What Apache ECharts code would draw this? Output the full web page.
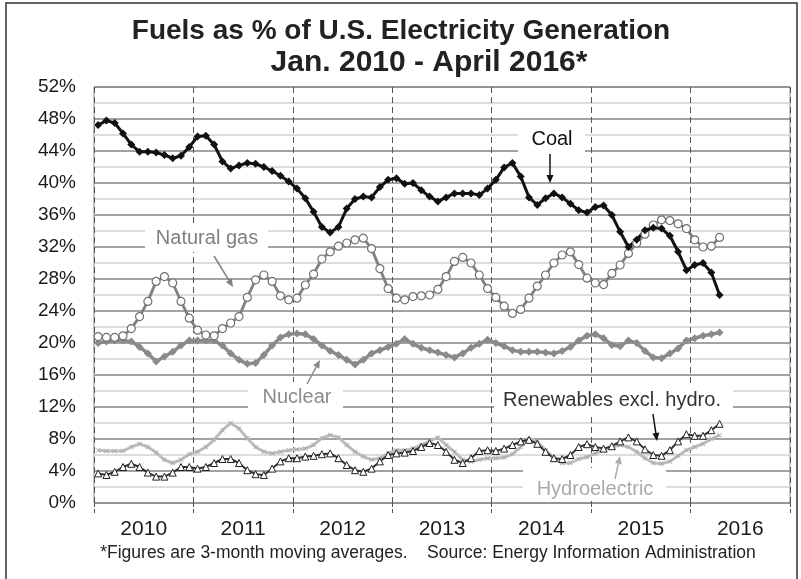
<!DOCTYPE html>
<html><head><meta charset="utf-8">
<script src="https://cdn.jsdelivr.net/npm/echarts@6/dist/echarts.min.js"></script>
<style>html,body{margin:0;padding:0;background:#fff}#c{width:801px;height:579px}</style>
</head><body><div id="c"></div>
<script>
// ---- data ----
const years = ['2010','2011','2012','2013','2014','2015','2016'];
const monthNames = ['Jan','Feb','Mar','Apr','May','Jun','Jul','Aug','Sep','Oct','Nov','Dec'];
const months = years.flatMap(y => monthNames.map(m => m + ' ' + y));
const yTicks = [0,4,8,12,16,20,24,28,32,36,40,44,48,52];

const coal = [47.25,47.8,47.5,46.2,44.8,43.9,43.9,43.8,43.5,43.1,43.4,44.5,
  45.8,45.9,44.8,42.7,41.8,42.2,42.5,42.4,42.0,41.5,40.9,40.2,
  39.3,38.1,36.4,34.5,33.8,34.5,36.8,38.0,38.3,38.2,39.5,40.4,
  40.6,39.9,40.0,39.1,38.3,37.7,38.2,38.7,38.7,38.7,38.5,39.3,
  40.4,41.95,42.5,40.8,38.2,37.25,38.1,38.7,38.2,37.4,36.6,36.3,
  37.0,37.2,36.0,33.9,32.0,32.9,34.1,34.4,34.3,33.4,31.4,29.1,
  29.75,30.0,28.8,26.0];
const gas = [20.8,20.7,20.7,20.9,21.8,23.3,25.2,27.7,28.3,27.5,25.2,23.1,
  21.6,21.0,20.9,21.8,22.5,23.3,25.7,27.9,28.5,27.7,25.9,25.4,
  25.6,27.25,28.6,30.5,31.4,32.1,32.5,32.9,33.1,31.8,29.3,26.8,
  25.6,25.4,25.8,25.9,26.0,26.7,28.3,30.2,30.7,30.0,28.5,26.8,
  25.7,24.6,23.7,24.2,25.6,27.1,28.5,30.0,31.0,31.4,29.8,28.1,
  27.5,27.3,28.7,29.75,31.2,32.5,33.6,34.75,35.4,35.3,34.9,34.3,
  32.9,32.0,32.1,33.2];
const nuclear = [20.0,20.2,20.3,20.3,20.2,19.5,18.7,17.7,18.3,18.9,19.7,20.3,
  20.3,20.3,20.3,19.7,18.7,17.9,17.4,17.5,18.5,19.7,20.7,21.1,
  21.2,21.1,20.5,19.7,19.0,18.5,17.9,17.3,17.9,18.7,19.1,19.5,
  19.9,20.5,19.9,19.4,19.1,18.8,18.5,18.2,18.7,19.4,19.9,20.4,
  20.0,19.6,19.1,18.9,18.9,18.9,18.8,18.7,19.0,19.5,20.3,20.9,
  21.1,20.6,19.75,19.6,20.3,20.0,19.0,18.2,18.1,18.7,19.3,20.3,
  20.6,20.9,21.1,21.3];
const renewables = [3.7,3.5,3.9,4.5,4.9,4.5,3.8,3.3,3.3,3.8,4.5,4.5,
  4.3,4.5,5.0,5.5,5.5,5.0,4.1,3.6,3.5,4.3,5.2,5.6,
  5.6,5.8,5.9,6.1,6.2,5.6,4.75,4.1,3.9,4.3,5.2,6.0,
  6.2,6.3,6.5,7.0,7.5,7.25,6.4,5.4,5.0,5.6,6.5,6.6,
  6.5,6.8,7.25,7.7,7.9,7.4,6.4,5.6,5.5,6.0,7.0,7.35,
  7.0,6.8,7.1,7.7,8.2,7.7,6.7,6.0,5.9,6.6,7.7,8.6,
  8.4,8.4,9.1,9.9];
const hydro = [6.6,6.5,6.5,6.5,7.0,7.4,7.0,6.3,5.4,5.0,5.4,6.1,
  6.4,7.0,7.9,9.1,10.0,9.3,8.1,7.0,6.4,6.2,6.4,6.6,
  6.7,6.8,7.25,8.1,8.5,8.2,7.25,6.4,5.8,5.4,5.6,6.2,
  6.6,6.6,6.8,7.25,7.7,8.2,7.25,6.4,5.4,5.2,5.4,5.6,
  5.6,5.7,6.1,7.0,8.0,7.7,6.6,5.6,5.0,5.0,5.5,5.75,
  6.2,6.6,7.0,7.25,7.0,6.4,5.6,5.0,4.9,5.2,5.9,6.6,
  7.0,7.4,8.0,8.5];

// ---- chart ----
const FONT = '"Liberation Sans", Arial, sans-serif';
const chart = echarts.init(document.getElementById('c'), null, {renderer: 'canvas'});

function arrow(x1, y1, x2, y2, color, w) {
  const dx = x2 - x1, dy = y2 - y1, L = Math.sqrt(dx*dx + dy*dy);
  const ux = dx / L, uy = dy / L, hl = 8, hw = 3.5;
  const bx = x2 - ux * hl, by = y2 - uy * hl;
  return [
    {type: 'line', z: 20, shape: {x1: x1, y1: y1, x2: bx, y2: by}, style: {stroke: color, lineWidth: w}},
    {type: 'polygon', z: 20, shape: {points: [[x2, y2], [bx - uy*hw, by + ux*hw], [bx + uy*hw, by - ux*hw]]}, style: {fill: color}}
  ];
}
function label(text, cx, cy, box, color) {
  return [
    {type: 'rect', z: 15, shape: {x: box[0], y: box[1], width: box[2] - box[0], height: box[3] - box[1]}, style: {fill: '#fff'}},
    {type: 'text', z: 16, x: cx, y: cy, style: {text: text, fill: color, fontSize: 20, fontFamily: FONT, align: 'center', verticalAlign: 'middle'}}
  ];
}

const xSym = 'path://M0,1 L1,0 L5,4 L9,0 L10,1 L6,5 L10,9 L9,10 L5,6 L1,10 L0,9 L4,5 Z';

const option = {
  animation: false,
  backgroundColor: '#fff',
  grid: {left: 94, right: 11, top: 87, bottom: 76, show: true, borderColor: '#8a8a8a', borderWidth: 1},
  xAxis: [
    {type: 'category', data: months, boundaryGap: true, show: false},
    {type: 'category', data: years, boundaryGap: true, position: 'bottom',
     axisLine: {show: false},
     axisTick: {show: true, length: 10, lineStyle: {color: '#555', type: 'dashed'}},
     axisLabel: {fontSize: 21, color: '#1a1a1a', fontFamily: FONT, margin: 16},
     splitLine: {show: true, lineStyle: {color: '#555', type: [6, 4], width: 1}}}
  ],
  yAxis: {type: 'value', min: yTicks[0], max: yTicks[yTicks.length - 1], interval: 4,
    axisLine: {show: false}, axisTick: {show: false},
    axisLabel: {formatter: '{value}%', fontSize: 19, color: '#1a1a1a', fontFamily: FONT, margin: 18},
    splitLine: {lineStyle: {color: '#858585', width: 1.5}},
    minorTick: {show: false, splitNumber: 2},
    minorSplitLine: {show: true, lineStyle: {color: '#d2d2d2', width: 1.5}}
  },
  series: [
    {name: 'Hydroelectric', type: 'line', data: hydro, symbol: xSym, symbolSize: 5, showAllSymbol: true,
     itemStyle: {color: '#a8a8a8'}, lineStyle: {color: '#bdbdbd', width: 3}},
    {name: 'Nuclear', type: 'line', data: nuclear, symbol: 'diamond', symbolSize: 8, showAllSymbol: true,
     itemStyle: {color: '#8a8a8a'}, lineStyle: {color: '#8a8a8a', width: 3.5}},
    {name: 'Renewables excl. hydro.', type: 'line', data: renewables, symbol: 'triangle', symbolSize: 7, showAllSymbol: true,
     itemStyle: {color: '#fff', borderColor: '#222', borderWidth: 1}, lineStyle: {color: '#333', width: 2}},
    {name: 'Natural gas', type: 'line', data: gas, symbol: 'circle', symbolSize: 8, showAllSymbol: true,
     itemStyle: {color: '#fff', borderColor: '#707070', borderWidth: 1.2}, lineStyle: {color: '#808080', width: 2.8}},
    {name: 'Coal', type: 'line', data: coal, symbol: 'diamond', symbolSize: 8, showAllSymbol: true,
     itemStyle: {color: '#111'}, lineStyle: {color: '#111', width: 3}}
  ],
  graphic: [
    {type: 'rect', z: 30, silent: true, shape: {x: 6, y: 3, width: 791, height: 640}, style: {fill: 'none', stroke: '#333', lineWidth: 1.5}},
    {type: 'text', z: 30, x: 401, y: 31, style: {text: 'Fuels as % of U.S. Electricity Generation', fill: '#222', fontSize: 28, fontWeight: 'bold', fontFamily: FONT, align: 'center', verticalAlign: 'middle'}},
    {type: 'text', z: 30, x: 429, y: 63, style: {text: 'Jan. 2010 - April 2016*', fill: '#222', fontSize: 30, fontWeight: 'bold', fontFamily: FONT, align: 'center', verticalAlign: 'middle'}},
    {type: 'text', z: 30, x: 428, y: 553, style: {text: '*Figures are 3-month moving averages.    Source: Energy Information Administration', fill: '#222', fontSize: 17.5, fontFamily: FONT, align: 'center', verticalAlign: 'middle'}},
    ...label('Natural gas', 207, 238, [145, 224, 268, 252], '#808080'),
    ...label('Coal', 552, 139, [518, 126, 585, 154], '#111'),
    ...label('Nuclear', 297, 397, [248, 382, 343, 411], '#8c8c8c'),
    ...label('Renewables excl. hydro.', 612, 400, [494, 385, 733, 413], '#333'),
    ...label('Hydroelectric', 595, 489, [523, 468, 666, 501], '#aaa'),
    ...arrow(214, 256, 233, 287, '#808080', 1.5),
    ...arrow(550, 154, 550, 183, '#111', 1.5),
    ...arrow(307, 384, 320, 360, '#8c8c8c', 1.5),
    ...arrow(653, 414, 657, 441, '#111', 1.5),
    ...arrow(615, 479, 620, 456, '#aaa', 1.5)
  ]
};
chart.setOption(option);
</script>
</body></html>
